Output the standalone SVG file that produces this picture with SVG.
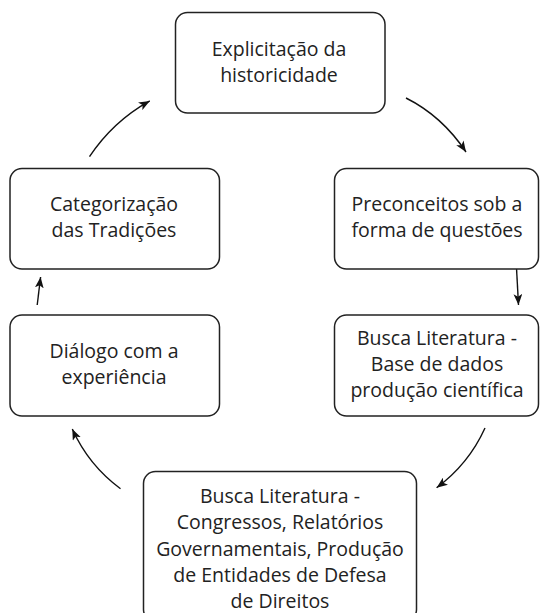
<svg xmlns="http://www.w3.org/2000/svg" width="540" height="613" viewBox="0 0 540 613">
<defs>
<style>
.box{fill:#fff;stroke:#222;stroke-width:1.5}
.t{font-family:"Open Sans","Liberation Sans",sans-serif;font-size:19.5px;fill:#222;text-anchor:middle}
.c{fill:none;stroke:#111;stroke-width:1.4}
</style>
<marker id="ah" viewBox="0 0 10 8" refX="10" refY="4" markerWidth="11" markerHeight="9" orient="auto" markerUnits="userSpaceOnUse">
<path d="M0,0 L10,4 L0,8 L2.5,4 z" fill="#111"/>
</marker>
</defs>
<rect width="540" height="613" fill="#fff"/>
<g id="connectors">
<path class="c" d="M406,98 Q442,116 466,152" marker-end="url(#ah)"/>
<path class="c" d="M516.5,268 L518.5,305" marker-end="url(#ah)"/>
<path class="c" d="M485,428 Q468.6,464.2 436.6,487.7" marker-end="url(#ah)"/>
<path class="c" d="M120.5,488.7 Q88.6,465.2 72.3,429" marker-end="url(#ah)"/>
<path class="c" d="M37.2,305 L40.6,277" marker-end="url(#ah)"/>
<path class="c" d="M89.5,156.7 Q112.9,121.5 149.8,100.9" marker-end="url(#ah)"/>
</g>
<g id="n1">
<rect class="box" x="175.5" y="12.5" width="209.5" height="100.5" rx="12"/>
<text class="t" x="279" y="56">Explicitação da</text>
<text class="t" x="279" y="82">historicidade</text>
</g>
<g id="n2">
<rect class="box" x="334.5" y="168.5" width="204" height="100.5" rx="12"/>
<text class="t" x="437" y="211">Preconceitos sob a</text>
<text class="t" x="437" y="237">forma de questões</text>
</g>
<g id="n3">
<rect class="box" x="334.5" y="315" width="204" height="101" rx="12"/>
<text class="t" x="437" y="345">Busca Literatura -</text>
<text class="t" x="437" y="371">Base de dados</text>
<text class="t" x="437" y="397">produção científica</text>
</g>
<g id="n4">
<rect class="box" x="143.5" y="471.5" width="273" height="150" rx="12"/>
<text class="t" x="280" y="503">Busca Literatura -</text>
<text class="t" x="280" y="529">Congressos, Relatórios</text>
<text class="t" x="280" y="556">Governamentais, Produção</text>
<text class="t" x="280" y="582">de Entidades de Defesa</text>
<text class="t" x="280" y="608">de Direitos</text>
</g>
<g id="n5">
<rect class="box" x="10" y="315" width="209.5" height="101" rx="12"/>
<text class="t" x="114" y="358">Diálogo com a</text>
<text class="t" x="114" y="384">experiência</text>
</g>
<g id="n6">
<rect class="box" x="10" y="168.5" width="209.5" height="100.5" rx="12"/>
<text class="t" x="114" y="211">Categorização</text>
<text class="t" x="114" y="237">das Tradições</text>
</g>
</svg>
